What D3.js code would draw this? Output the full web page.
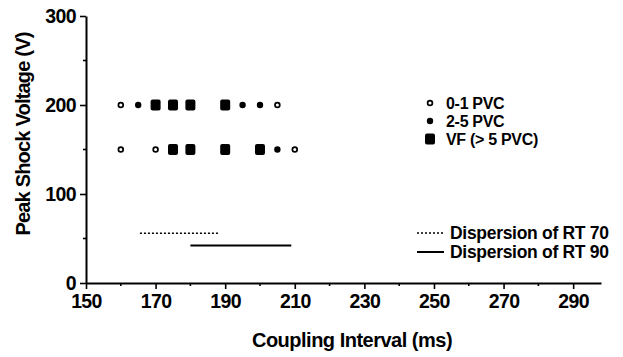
<!DOCTYPE html>
<html>
<head>
<meta charset="utf-8">
<script src="https://cdn.jsdelivr.net/npm/d3@7"></script>
<style>
	body { margin: 0; background: #fff; }
	svg text { font-family: "Liberation Sans", Arial, Helvetica, sans-serif; fill: #000; font-weight: bold; }
	.axis path, .axis line { stroke: #000; }
	.axis path { stroke-width: 2; }
	.axis line { stroke-width: 1.6; }
</style>
</head>
<body>
<div id="chart"></div>
<script>
// --------------------------------------------------------------------
// data

const couplingMs = [160, 165, 170, 175, 180, 190, 195, 200, 205,
                    160, 170, 175, 180, 190, 200, 205, 210];
const shockV     = [200, 200, 200, 200, 200, 200, 200, 200, 200,
                    150, 150, 150, 150, 150, 150, 150, 150];
const outcome    = ["0-1", "2-5", "VF", "VF", "VF", "VF", "2-5", "2-5", "0-1",
                    "0-1", "0-1", "VF", "VF", "VF", "VF", "2-5", "0-1"];

const outcomeKeys = ["0-1", "2-5", "VF"];
const outcomeLabels = ["0-1 PVC", "2-5 PVC", "VF (> 5 PVC)"];

const dispersionNames = ["Dispersion of RT 70", "Dispersion of RT 90"];
const dispersionFrom = [165.5, 180];
const dispersionTo = [188, 209];
const dispersionV = [56, 42];

const xTicks = [150, 170, 190, 210, 230, 250, 270, 290];
const xMinor = [160, 180, 200, 220, 240, 260, 280];
const yTicks = [0, 100, 200, 300];
const yMinor = [50, 150, 250];

// --------------------------------------------------------------------

const width = 623, height = 357;

const svg = d3.select("#chart").append("svg")
	.attr("width", width)
	.attr("height", height);

const x = d3.scaleLinear().domain([150, 298]).range([86, 601]);
const y = d3.scaleLinear().domain([0, 300]).range([283, 16]);

// axes
const xAxis = d3.axisBottom(x)
	.tickValues(xTicks)
	.tickSizeInner(6)
	.tickSizeOuter(0)
	.tickPadding(5);

const gX = svg.append("g")
	.attr("class", "axis axis--x")
	.attr("transform", "translate(0," + y(0) + ")")
	.call(xAxis);

gX.selectAll("text")
	.style("font-size", "19.5px")
	.style("letter-spacing", "-0.6px");

gX.selectAll("line.minor")
	.data(xMinor)
	.enter().append("line")
	.attr("class", "minor")
	.attr("x1", d => x(d)).attr("x2", d => x(d))
	.attr("y1", 0).attr("y2", 3);

const yAxis = d3.axisLeft(y)
	.tickValues(yTicks)
	.tickSizeInner(6)
	.tickSizeOuter(0)
	.tickPadding(4);

const gY = svg.append("g")
	.attr("class", "axis axis--y")
	.attr("transform", "translate(" + x(150) + ",0)")
	.call(yAxis);

gY.selectAll("text")
	.style("font-size", "19.5px")
	.style("letter-spacing", "-0.6px");

gY.selectAll("line.minor")
	.data(yMinor)
	.enter().append("line")
	.attr("class", "minor")
	.attr("x1", -3).attr("x2", 0)
	.attr("y1", d => y(d)).attr("y2", d => y(d));

// axis titles
svg.append("text")
	.attr("x", 352)
	.attr("y", 347)
	.attr("text-anchor", "middle")
	.style("font-size", "20px")
	.style("letter-spacing", "-0.5px")
	.text("Coupling Interval (ms)");

svg.append("text")
	.attr("transform", "translate(30,134) rotate(-90)")
	.attr("text-anchor", "middle")
	.style("font-size", "20px")
	.style("letter-spacing", "-0.8px")
	.text("Peak Shock Voltage (V)");

// --------------------------------------------------------------------
// markers

function drawMarker(g, kind) {
	switch (kind) {
		case "0-1":
			g.append("circle").attr("r", 2.4)
				.attr("fill", "#fff").attr("stroke", "#000").attr("stroke-width", 1.7);
			break;
		case "2-5":
			g.append("circle").attr("r", 3.2).attr("fill", "#000");
			break;
		case "VF":
			g.append("rect").attr("x", -5).attr("y", -5.5)
				.attr("width", 10).attr("height", 11)
				.attr("rx", 2).attr("ry", 2).attr("fill", "#000");
			break;
	}
}

const points = couplingMs.map((c, i) => ({ c: c, v: shockV[i], k: outcome[i] }));

svg.selectAll("g.pt")
	.data(points)
	.enter().append("g")
	.attr("class", "pt")
	.attr("transform", d => "translate(" + x(d.c) + "," + y(d.v) + ")")
	.each(function(d) { drawMarker(d3.select(this), d.k); });

// dispersion lines
svg.selectAll("line.disp")
	.data(dispersionNames)
	.enter().append("line")
	.attr("class", "disp")
	.attr("x1", (d, i) => x(dispersionFrom[i]))
	.attr("x2", (d, i) => x(dispersionTo[i]))
	.attr("y1", (d, i) => y(dispersionV[i]))
	.attr("y2", (d, i) => y(dispersionV[i]))
	.attr("stroke", "#000")
	.attr("stroke-width", (d, i) => i == 0 ? 1.5 : 2)
	.attr("stroke-dasharray", (d, i) => i == 0 ? "2,2" : null);

// --------------------------------------------------------------------
// legends

const legend = svg.append("g").attr("transform", "translate(430,103)");

outcomeKeys.forEach((k, i) => {
	const row = legend.append("g").attr("transform", "translate(0," + (i * 18) + ")");
	drawMarker(row, k);
	row.append("text")
		.attr("x", 16)
		.attr("dy", "0.36em")
		.style("font-size", "16px")
		.style("letter-spacing", "-0.3px")
		.text(outcomeLabels[i]);
});

const legend2 = svg.append("g").attr("transform", "translate(417,233)");

dispersionNames.forEach((n, i) => {
	const row = legend2.append("g").attr("transform", "translate(0," + (i * 19) + ")");
	row.append("line")
		.attr("x1", 0).attr("x2", 27)
		.attr("stroke", "#000")
		.attr("stroke-width", i == 0 ? 1.5 : 2)
		.attr("stroke-dasharray", i == 0 ? "2,2" : null);
	row.append("text")
		.attr("x", 33)
		.attr("dy", "0.36em")
		.style("font-size", "17.5px")
		.style("letter-spacing", "-0.3px")
		.text(n);
});
</script>
</body>
</html>
